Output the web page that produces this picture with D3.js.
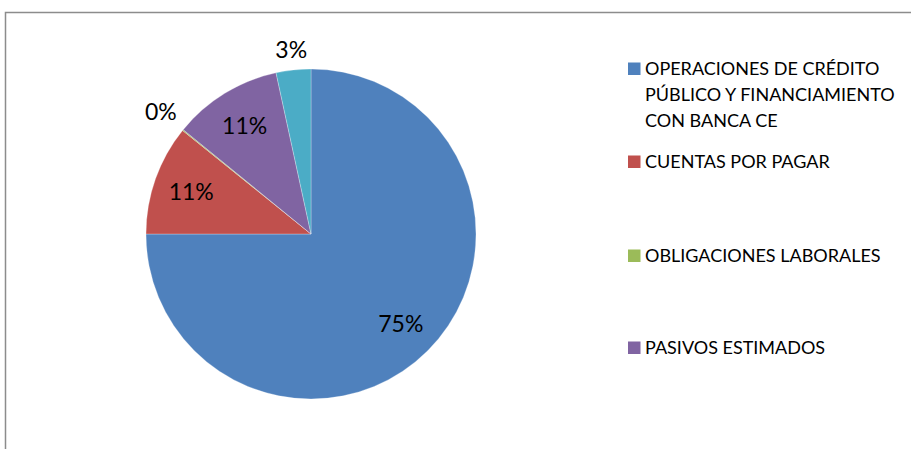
<!DOCTYPE html>
<html>
<head>
<meta charset="utf-8">
<script src="https://cdn.jsdelivr.net/npm/d3@7"></script>
<style>
	html, body { margin: 0; padding: 0; background: #fff; }
	svg { display: block; font-family: Lato, "Open Sans", sans-serif; }
</style>
</head>
<body>
<svg class="chart" width="911" height="449"></svg>
<script>
// DATA
var categories = [
	'OPERACIONES DE CRÉDITO PÚBLICO Y FINANCIAMIENTO CON BANCA CE',
	'CUENTAS POR PAGAR',
	'OBLIGACIONES LABORALES',
	'PASIVOS ESTIMADOS',
	'OTROS PASIVOS'
];
var shares = [75.0, 10.8, 0.1, 10.7, 3.4];
var colors = ['#4F81BD', '#C0504D', '#9BBB59', '#8064A2', '#4BACC6'];

(function() {

	//VARS
	var svg = d3.select('.chart')
	var width = 911
	var height = 449
	var center = { x: 311, y: 234 }
	var radius = 165
	var legend = { x: 628, lineHeight: 26, maxWidth: 262, rows: [75, 168, 262, 354] }

	var data = categories.map(function(c, i) {
		return { name: c, value: shares[i], color: colors[i] }
	})

	var total = d3.sum(shares)
	var fmt = function(v) { return Math.round(v / total * 100) + '%' }

	function drawFrame() {
		// outer chart border (right and bottom edges fall outside the capture)
		svg.append('path')
			.attr('d', 'M5.5,' + height + 'V12.5H' + width)
			.attr('fill', 'none')
			.attr('stroke', '#8c8c8c')
			.attr('stroke-width', 1.5)
	}

	function drawPie() {
		var pie = d3.pie()
			.sort(null)
			.value(function(d) { return d.value })

		var arc = d3.arc().innerRadius(0).outerRadius(radius)
		var arcs = pie(data)

		var g = svg.append('g')
			.attr('transform', 'translate(' + center.x + ',' + center.y + ')')

		g.selectAll('.slice')
			.data(arcs)
			.enter().append('path')
			.attr('class', 'slice')
			.attr('d', arc)
			.attr('fill', function(d) { return d.data.color })
			.attr('stroke', '#ffffff')
			.attr('stroke-opacity', 0.45)
			.attr('stroke-width', 0.6)

		var labels = g.selectAll('.label')
			.data(arcs)
			.enter().append('text')
			.attr('class', 'label')
			.attr('text-anchor', 'middle')
			.attr('dy', '0.36em')
			.style('font-size', '23px')
			.style('fill', '#000')
			.text(function(d) { return fmt(d.data.value) })

		labels.each(function(d) {
			var mid = (d.startAngle + d.endAngle) / 2
			var sx = Math.sin(mid), sy = -Math.cos(mid)
			var dist
			if (d.data.value / total < 0.05) {
				// small slices get their label pushed outside the pie
				var bb = this.getBBox()
				dist = radius + 11 + Math.abs(sx) * bb.width / 2 + Math.abs(sy) * 8
			} else {
				dist = radius * 0.77
			}
			d3.select(this)
				.attr('x', sx * dist)
				.attr('y', sy * dist)
		})
	}

	function wrap(textSel, maxWidth) {
		textSel.each(function(d) {
			var text = d3.select(this)
			var words = d.name.split(' ')
			var line = []
			var lineNo = 0
			var tspan = text.text(null).append('tspan').attr('x', 17).attr('y', 0)
			words.forEach(function(w) {
				line.push(w)
				tspan.text(line.join(' '))
				if (tspan.node().getComputedTextLength() > maxWidth && line.length > 1) {
					line.pop()
					tspan.text(line.join(' '))
					line = [w]
					lineNo++
					tspan = text.append('tspan')
						.attr('x', 17)
						.attr('y', lineNo * legend.lineHeight)
						.text(w)
				}
			})
		})
	}

	function drawLegend() {
		// only the first four entries fit inside the captured area
		var shown = data.slice(0, legend.rows.length)

		var items = svg.append('g')
			.attr('class', 'legend')
			.selectAll('.legend-item')
			.data(shown)
			.enter().append('g')
			.attr('class', 'legend-item')
			.attr('transform', function(d, i) {
				return 'translate(' + legend.x + ',' + legend.rows[i] + ')'
			})

		items.append('rect')
			.attr('x', 0)
			.attr('y', -12.5)
			.attr('width', 12.5)
			.attr('height', 12.5)
			.attr('fill', function(d) { return d.color })

		var txt = items.append('text')
			.style('font-size', '18px')
			.style('fill', '#000')

		wrap(txt, legend.maxWidth)
	}

	function init() {
		drawFrame()
		drawPie()
		drawLegend()
	}

	init()
})()
</script>
</body>
</html>
